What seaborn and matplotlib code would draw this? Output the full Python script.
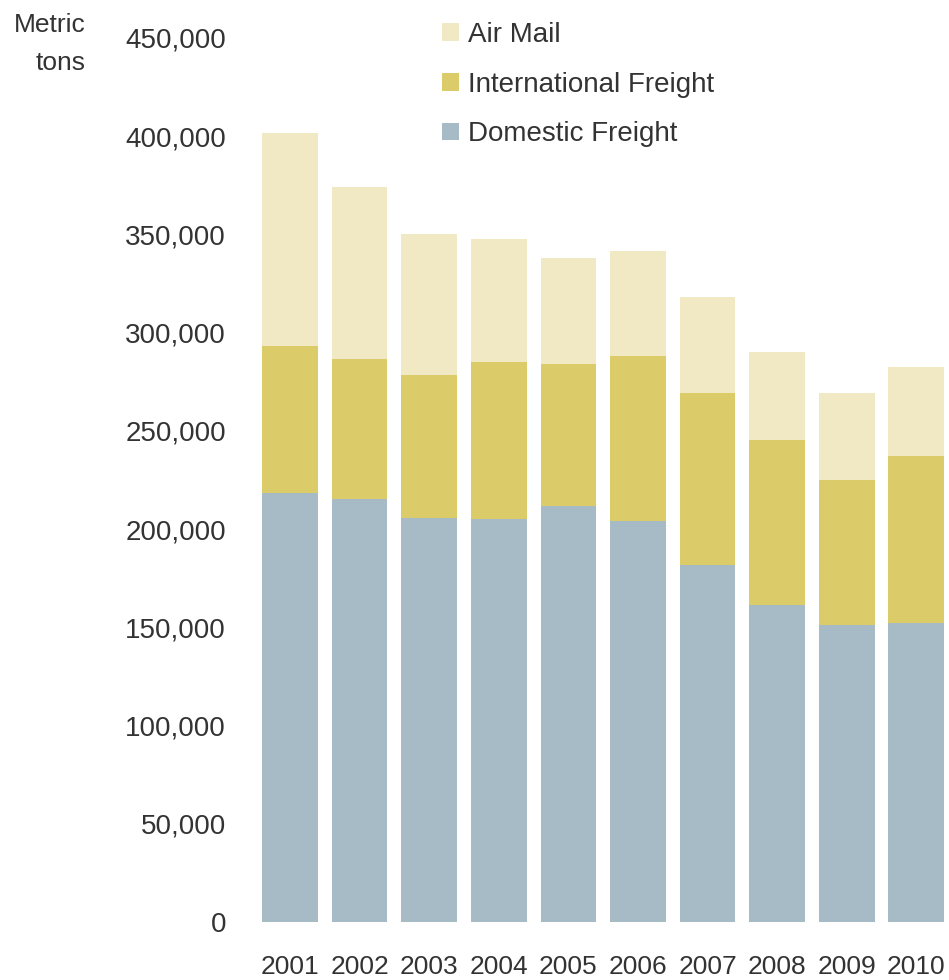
import matplotlib
matplotlib.use("Agg")
import matplotlib.pyplot as plt
from matplotlib.patches import Patch
import numpy as np
import pandas as pd
import seaborn as sns

years = ["2001", "2002", "2003", "2004", "2005", "2006", "2007", "2008", "2009", "2010"]
domestic = [218500, 215300, 205800, 205300, 211900, 204100, 181700, 161400, 151000, 152200]
international = [74800, 71100, 72600, 79600, 72000, 84000, 87700, 83900, 74100, 85200]
air_mail = [108300, 87600, 71800, 62600, 54200, 53400, 48900, 44700, 44200, 45100]
series_names = ["Air Mail", "International Freight", "Domestic Freight"]
yticks = [0, 50000, 100000, 150000, 200000, 250000, 300000, 350000, 400000, 450000]

colors = {"Domestic Freight": "#a6bbc6", "International Freight": "#dbcc69", "Air Mail": "#f0e9c3"}
text_color = "#333333"

sns.set_theme(style="white")
plt.rcParams["font.family"] = ["Liberation Sans", "DejaVu Sans"]

df = pd.DataFrame({"year": years, "dom": domestic, "intl": international, "air": air_mail})
df["lvl2"] = df["dom"] + df["intl"]
df["total"] = df["lvl2"] + df["air"]

fig = plt.figure(figsize=(9.49, 9.8), dpi=100)
ax = fig.add_axes([255.2 / 949, 1 - 922 / 980, 1 - 255.2 / 949, (922 - 38) / 980])

sns.barplot(data=df, x="year", y="total", color=colors["Air Mail"], width=0.8,
            linewidth=0, saturation=1, ax=ax, errorbar=None)
sns.barplot(data=df, x="year", y="lvl2", color=colors["International Freight"], width=0.8,
            linewidth=0, saturation=1, ax=ax, errorbar=None)
sns.barplot(data=df, x="year", y="dom", color=colors["Domestic Freight"], width=0.8,
            linewidth=0, saturation=1, ax=ax, errorbar=None)

ax.set_xlim(-0.5, 9.47)
ax.set_ylim(0, 450000)
ax.set_yticks(yticks)
ax.set_yticklabels([f"{v:,}" for v in yticks])
ax.set_xlabel("")
ax.set_ylabel("")
for s in ax.spines.values():
    s.set_visible(False)
ax.tick_params(axis="y", length=0, pad=21, labelsize=20, labelcolor=text_color)
ax.tick_params(axis="x", length=0, pad=24, labelsize=19, labelcolor=text_color)
ax.grid(False)

fig.text(86 / 949, 1 - 44 / 980, "Metric\ntons", ha="right", va="center",
         fontsize=19, color=text_color, linespacing=1.75)

handles = [Patch(facecolor=colors[n], edgecolor="none") for n in series_names]
leg = fig.legend(handles, series_names, loc="upper left",
                 bbox_to_anchor=(442 / 949, 1 - 22 / 980), frameon=False,
                 fontsize=20, handlelength=0.6, handleheight=0.6,
                 handletextpad=0.35, labelspacing=0.85, borderaxespad=0, borderpad=0)
for t in leg.get_texts():
    t.set_color(text_color)

fig.savefig("out.png", dpi=100)
